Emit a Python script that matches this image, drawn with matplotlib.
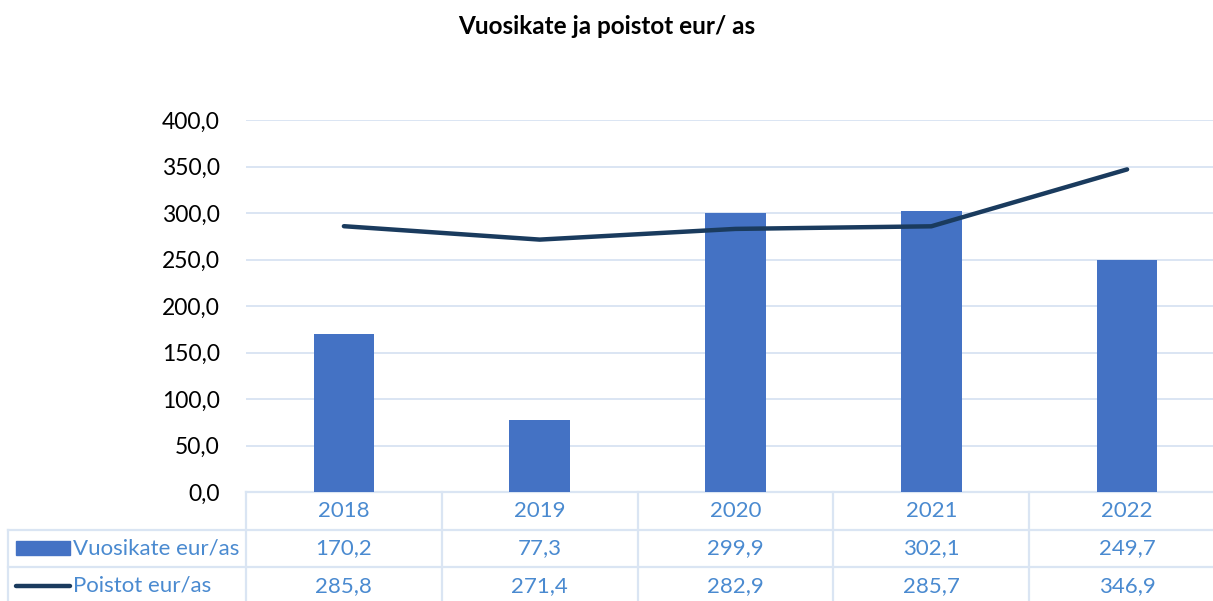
import matplotlib.pyplot as plt
from matplotlib.patches import Rectangle
from matplotlib.lines import Line2D

# data
vuodet = ['2018', '2019', '2020', '2021', '2022']
vuosikate = [170.2, 77.3, 299.9, 302.1, 249.7]
poistot = [285.8, 271.4, 282.9, 285.7, 346.9]
sarjat = ['Vuosikate eur/as', 'Poistot eur/as']
y_ticks = [0, 50, 100, 150, 200, 250, 300, 350, 400]

plt.rcParams['font.family'] = ['Lato', 'DejaVu Sans']

W, H = 1213, 601
fig = plt.figure(figsize=(W / 100, H / 100), dpi=100)
ax = fig.add_axes([246 / W, 1 - 492 / H, 979 / W, 372 / H])

bar_col = '#4472C4'
line_col = '#1A3B5E'
grid_col = '#DAE5F3'
txt_col = '#4A8AD0'

x = list(range(len(vuodet)))
ax.bar(x, vuosikate, width=0.31, color=bar_col, zorder=2)
ax.plot(x, poistot, color=line_col, lw=3.2, solid_capstyle='round', zorder=3)

ax.set_xlim(-0.5, len(vuodet) - 0.5)
ax.set_ylim(0, 400)
ax.set_yticks(y_ticks)
ax.set_yticklabels([f'{v:.1f}'.replace('.', ',') for v in y_ticks], fontsize=16.5)
ax.tick_params(axis='y', length=0, pad=19)
ax.set_xticks([])
for s in ax.spines.values():
    s.set_visible(False)
ax.grid(axis='y', color=grid_col, lw=1.4, zorder=0)

fig.text(0.5, 1 - 27 / H, 'Vuosikate ja poistot eur/ as', ha='center', va='center',
         fontsize=17.5, fontweight='bold')

# data table under the chart
h = 37.5 / 372
trans = ax.get_xaxis_transform()
left = (8 - 246) / 979
kw = dict(color=grid_col, lw=1.6, clip_on=False, zorder=1)
ax.add_line(Line2D([0, 1.02], [0, 0], transform=ax.transAxes, **kw))
for r in (1, 2):
    ax.add_line(Line2D([left, 1.02], [-r * h, -r * h], transform=ax.transAxes, **kw))
for b in range(len(vuodet) + 1):
    ax.add_line(Line2D([b - 0.5, b - 0.5], [0, -3 * h], transform=trans, **kw))
ax.add_line(Line2D([left, left], [-h, -3 * h], transform=ax.transAxes, **kw))

for i, v in enumerate(vuodet):
    ax.text(i, -0.5 * h, v, transform=trans, ha='center', va='center',
            fontsize=16, color=txt_col)
    ax.text(i, -1.5 * h, f'{vuosikate[i]:.1f}'.replace('.', ','), transform=trans,
            ha='center', va='center', fontsize=16, color=txt_col)
    ax.text(i, -2.5 * h, f'{poistot[i]:.1f}'.replace('.', ','), transform=trans,
            ha='center', va='center', fontsize=16, color=txt_col)

# legend keys
kx0, kx1 = (16 - 246) / 979, (70 - 246) / 979
ax.add_patch(Rectangle((kx0, (492 - 555) / 372), kx1 - kx0, 14 / 372,
                       transform=ax.transAxes, color=bar_col, clip_on=False))
ax.add_line(Line2D([kx0, kx1], [-2.5 * h, -2.5 * h], transform=ax.transAxes,
                   color=line_col, lw=3.2, solid_capstyle='round', clip_on=False))
for r, name in enumerate(sarjat):
    ax.text((73 - 246) / 979, -(1.5 + r) * h, name, transform=ax.transAxes,
            ha='left', va='center', fontsize=16, color=txt_col)

fig.savefig('out.png', dpi=100)
